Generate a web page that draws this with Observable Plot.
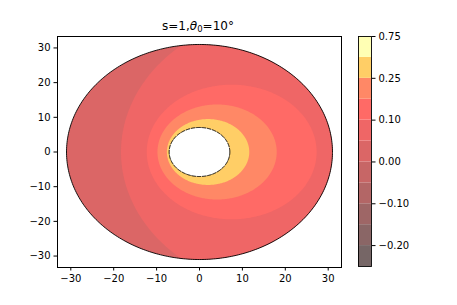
<!DOCTYPE html>
<html><head><meta charset="utf-8">
<script src="https://cdn.jsdelivr.net/npm/d3@7"></script>
<script src="https://cdn.jsdelivr.net/npm/@observablehq/plot@0.6"></script>
<style>
html,body{margin:0;padding:0;background:#fff;}
#wrap{position:relative;width:457px;height:305px;overflow:hidden;}
#wrap svg{position:absolute;top:0;}
</style></head><body><div id="wrap"></div>
<script>
// ---- data ----
const levels = [-0.25, -0.2, -0.15, -0.1, -0.05, 0, 0.05, 0.1, 0.15, 0.25, 0.5, 0.75];
const cbTickValues = [0.75, 0.25, 0.10, 0.00, -0.10, -0.20];
const cbTickLabels = ["0.75", "0.25", "0.10", "0.00", "\u22120.10", "\u22120.20"];
const xTicks = [-30, -20, -10, 0, 10, 20, 30];
const xTickLabels = ["\u221230", "\u221220", "\u221210", "0", "10", "20", "30"];
const yTicks = [-30, -20, -10, 0, 10, 20, 30];
const yTickLabels = ["\u221230", "\u221220", "\u221210", "0", "10", "20", "30"];
const outerRadius = 31;
const innerRadius = 7.07;
// filled contour regions (level = lower bound of band), shape extents
const contourLevels = [0.05, 0.10, 0.15, 0.25];
const contourLeft   = [-18.3, -12.3, -9.8, -7.6];
const contourRight  = [63.1, 27.3, 18.0, 11.6];
const contourHalfH  = [40.7, 19.4, 13.7, 9.5];
const baseLevel = 0.00;
const title = {pre: "s=1,", sym: "\u03B8", sub: "0", post: "=10\u00B0"};

// ---- styles: matplotlib "hot" at alpha 0.6 over white, per band ----
const palette = ["#766666","#8a6666","#9e6666","#b36666","#c76666","#db6666",
                 "#ef6666","#ff6a66","#ff8866","#ffce66","#ffffb4"];
const bandColor = lv => palette[levels.indexOf(lv)];

const N = 360;
function shape(cx, rx, ry, clipR) {
  const pts = [];
  for (let k = 0; k < N; k++) {
    const t = 2 * Math.PI * k / N, ux = Math.cos(t), uy = Math.sin(t);
    let r = 1 / Math.sqrt((ux / rx) ** 2 + (uy / ry) ** 2);
    if (clipR != null) {
      const b = cx * ux;
      r = Math.min(r, -b + Math.sqrt(b * b - cx * cx + clipR * clipR));
    }
    pts.push({x: cx + r * ux, y: r * uy});
  }
  return pts;
}
const outer = shape(0, outerRadius, outerRadius);
const hole = shape(0, innerRadius, innerRadius);
const regions = [{pts: outer, color: bandColor(baseLevel)}].concat(contourLevels.map((lv, i) => ({
  pts: shape((contourLeft[i] + contourRight[i]) / 2, (contourRight[i] - contourLeft[i]) / 2, contourHalfH[i], outerRadius),
  color: bandColor(lv)
})));

const font = {fontFamily: "'DejaVu Sans', sans-serif", fontSize: "10px", color: "black", background: "transparent", overflow: "visible"};

const main = Plot.plot({
  width: 457, height: 305,
  marginLeft: 57, marginRight: 116, marginTop: 36, marginBottom: 38,
  x: {domain: [-33.1, 33.1]},
  y: {domain: [-33.3, 33.3]},
  style: font,
  marks: [
    ...regions.map(r => Plot.line(r.pts, {x: "x", y: "y", fill: r.color, stroke: "none", curve: "linear-closed"})),
    Plot.line(hole, {x: "x", y: "y", fill: "white", stroke: "black", strokeWidth: 1, strokeDasharray: "3.7,1.6", curve: "linear-closed"}),
    Plot.line(outer, {x: "x", y: "y", stroke: "black", strokeWidth: 0.9, curve: "linear-closed"}),
    Plot.frame({stroke: "black", strokeWidth: 1}),
    Plot.axisX({ticks: xTicks, tickFormat: (d, i) => xTickLabels[xTicks.indexOf(d)], tickSize: 3.5, tickPadding: 3.5, label: null}),
    Plot.axisY({ticks: yTicks, tickFormat: (d, i) => yTickLabels[yTicks.indexOf(d)], tickSize: 3.5, tickPadding: 3.5, label: null})
  ]
});
main.style.left = "0px";

// title
const t = d3.select(main).append("text")
  .attr("x", 198).attr("y", 30).attr("text-anchor", "middle")
  .attr("font-family", "'DejaVu Sans', sans-serif").attr("font-size", 12).attr("fill", "black");
t.append("tspan").text(title.pre);
t.append("tspan").attr("font-style", "italic").text(title.sym);
t.append("tspan").attr("font-size", 8.5).attr("dy", 2).text(title.sub);
t.append("tspan").attr("dy", -2).text(title.post);

const bands = d3.range(levels.length - 1).map(i => ({i, color: palette[i]}));
const cb = Plot.plot({
  width: 117, height: 305,
  marginLeft: 18, marginRight: 86, marginTop: 36, marginBottom: 39,
  x: {domain: [0, 1], axis: null},
  y: {domain: [0, levels.length - 1]},
  color: {type: "identity"},
  style: font,
  marks: [
    Plot.rect(bands, {x1: 0, x2: 1, y1: "i", y2: d => d.i + 1, fill: "color"}),
    Plot.frame({stroke: "black", strokeWidth: 0.9}),
    Plot.axisY({anchor: "right", ticks: cbTickValues.map(v => levels.indexOf(v)),
      tickFormat: d => cbTickLabels[cbTickValues.map(v => levels.indexOf(v)).indexOf(d)],
      tickSize: 3.5, tickPadding: 3.5, label: null})
  ]
});
cb.style.left = "340px";

document.getElementById("wrap").append(main, cb);
</script></body></html>
